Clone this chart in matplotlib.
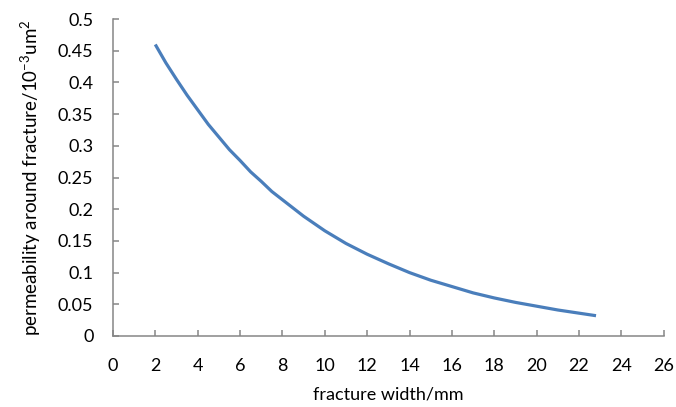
import matplotlib.pyplot as plt

# data
fracture_width = [2, 2.5, 3, 3.5, 4, 4.5, 5, 5.5, 6, 6.5, 7, 7.5, 8, 9, 10, 11, 12, 13, 14,
                  15, 16, 17, 18, 19, 20, 21, 22, 22.8]
permeability = [0.46, 0.431, 0.405, 0.380, 0.357, 0.334, 0.314, 0.294, 0.277, 0.259, 0.244,
                0.228, 0.215, 0.189, 0.166, 0.146, 0.129, 0.114, 0.100, 0.088, 0.078, 0.068,
                0.060, 0.053, 0.047, 0.041, 0.036, 0.032]
x_ticks = list(range(0, 27, 2))
y_ticks = [0, 0.05, 0.1, 0.15, 0.2, 0.25, 0.3, 0.35, 0.4, 0.45, 0.5]
y_tick_labels = ['0', '0.05', '0.1', '0.15', '0.2', '0.25', '0.3', '0.35', '0.4', '0.45', '0.5']

plt.rcParams['font.family'] = ['Lato', 'DejaVu Sans']
plt.rcParams['mathtext.fontset'] = 'custom'
plt.rcParams['mathtext.rm'] = 'Lato'
plt.rcParams['mathtext.it'] = 'Lato'

fig = plt.figure(figsize=(6.76, 4.07), dpi=100)
ax = fig.add_axes([0.167, 0.1745, 0.815, 0.7785])

ax.plot(fracture_width, permeability, color='#4a7ebb', linewidth=2.3, solid_capstyle='butt')

ax.set_xlim(0, 26)
ax.set_ylim(0, 0.5)
ax.set_xticks(x_ticks)
ax.set_yticks(y_ticks)
ax.set_yticklabels(y_tick_labels)

for side in ['top', 'right']:
    ax.spines[side].set_visible(False)
for side in ['left', 'bottom']:
    ax.spines[side].set_color('#868686')
    ax.spines[side].set_linewidth(1.1)

ax.tick_params(axis='both', direction='in', length=4.5, width=1.1, color='#868686',
               labelsize=13, labelcolor='black')
ax.tick_params(axis='x', pad=16)
ax.tick_params(axis='y', pad=14)

ax.set_xlabel('fracture width/mm', fontsize=13, labelpad=9)
ax.set_ylabel(r'permeability around fracture/10$^{-3}$um$^{2}$', fontsize=13.5, labelpad=11)

plt.savefig('out.png', dpi=100)
